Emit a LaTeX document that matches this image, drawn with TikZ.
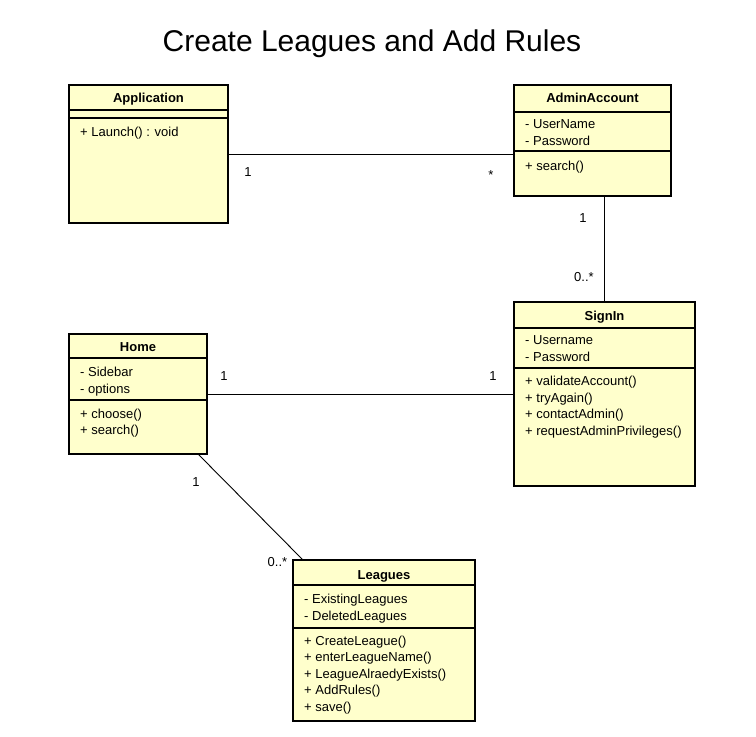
\documentclass[tikz,border=0pt]{standalone}
\usepackage{fontspec}
\setmainfont{Liberation Sans}
\definecolor{classfill}{HTML}{FFFFCC}
\begin{document}
\begin{tikzpicture}[x=1pt,y=-1pt,
  classbox/.style={draw=black, line width=2pt, fill=classfill, anchor=north west, inner sep=0pt, outer sep=0pt},
  sepline/.style={line width=1.2pt},
  member/.style={anchor=base west, inner sep=0pt, font=\fontsize{13}{15}\selectfont},
  cname/.style={anchor=base, inner sep=0pt, font=\bfseries\fontsize{13}{15}\selectfont},
  mult/.style={anchor=base, inner sep=0pt, font=\fontsize{13}{15}\selectfont},
  assoc/.style={line width=0.9pt, draw=black}]
\useasboundingbox (0,0) rectangle (756,737);
\fill[white] (0,0) rectangle (756,737);

% title
\node[anchor=base, inner sep=0pt, font=\fontsize{30}{36}\selectfont] (title) at (372,51) {Create Leagues and Add Rules};

% class boxes
\node[classbox, minimum width=159pt, minimum height=138pt] (app) at (69,85) {};
\node[classbox, minimum width=157pt, minimum height=111pt] (admin) at (514,85) {};
\node[classbox, minimum width=138pt, minimum height=120pt] (home) at (69,334) {};
\node[classbox, minimum width=181pt, minimum height=184pt] (signin) at (514,302) {};
\node[classbox, minimum width=182pt, minimum height=161pt] (leagues) at (293,560) {};

% compartments
\draw[sepline] (app.west |- 0,110) -- (app.east |- 0,110);
\draw[sepline] (app.west |- 0,118) -- (app.east |- 0,118);
\draw[sepline] (admin.west |- 0,112) -- (admin.east |- 0,112);
\draw[sepline] (admin.west |- 0,151) -- (admin.east |- 0,151);
\draw[sepline] (home.west |- 0,358) -- (home.east |- 0,358);
\draw[sepline] (home.west |- 0,400) -- (home.east |- 0,400);
\draw[sepline] (signin.west |- 0,328) -- (signin.east |- 0,328);
\draw[sepline] (signin.west |- 0,368) -- (signin.east |- 0,368);
\draw[sepline] (leagues.west |- 0,585) -- (leagues.east |- 0,585);
\draw[sepline] (leagues.west |- 0,628) -- (leagues.east |- 0,628);

% class names
\node[cname] (app-name) at (148.5,102.7) {Application};
\node[cname] (admin-name) at (592.5,102.7) {AdminAccount};
\node[cname] (home-name) at (138,351.7) {Home};
\node[cname] (signin-name) at (604.5,320) {SignIn};
\node[cname] (leagues-name) at (384,579) {Leagues};

% members
\node[member] (app-m1) at (80,136) {+ Launch() : void};

\node[member] (admin-a1) at (525,128) {- UserName};
\node[member] (admin-a2) at (525,145) {- Password};
\node[member] (admin-m1) at (525,170) {+ search()};

\node[member] (home-a1) at (80,376.7) {- Sidebar};
\node[member] (home-a2) at (80,393.5) {- options};
\node[member] (home-m1) at (80,418) {+ choose()};
\node[member] (home-m2) at (80,434.8) {+ search()};

\node[member] (signin-a1) at (525,344.5) {- Username};
\node[member] (signin-a2) at (525,361.5) {- Password};
\foreach \t [count=\i] in {+ validateAccount(), + tryAgain(), + contactAdmin(), + requestAdminPrivileges()}
  \node[member] (signin-m\i) at (525,{385.5+16.7*(\i-1)}) {\t};

\node[member] (leagues-a1) at (304,603) {- ExistingLeagues};
\node[member] (leagues-a2) at (304,620) {- DeletedLeagues};
\foreach \t [count=\i] in {+ CreateLeague(), + enterLeagueName(), + LeagueAlraedyExists(), + AddRules(), + save()}
  \node[member] (leagues-m\i) at (304,{645+16.5*(\i-1)}) {\t};

% associations
\draw[assoc] (app.east) -- (app.east -| admin.west);
\draw[assoc] (signin.north |- admin.south) -- (signin.north);
\draw[assoc] (home.east) -- (home.east -| signin.west);
\draw[assoc] ([xshift=-9pt]home.south east) -- ([xshift=10pt]leagues.north west);

% multiplicities
\node[mult] (m-app) at (248,176.7) {1};
\node[mult] (m-admin1) at (491,179) {*};
\node[mult] (m-admin2) at (583,222) {1};
\node[mult] (m-signin1) at (584,281) {0..*};
\node[mult] (m-home1) at (224,380) {1};
\node[mult] (m-signin2) at (493,380) {1};
\node[mult] (m-home2) at (196,486.7) {1};
\node[mult] (m-leagues) at (277.5,566.7) {0..*};
\end{tikzpicture}
\end{document}
